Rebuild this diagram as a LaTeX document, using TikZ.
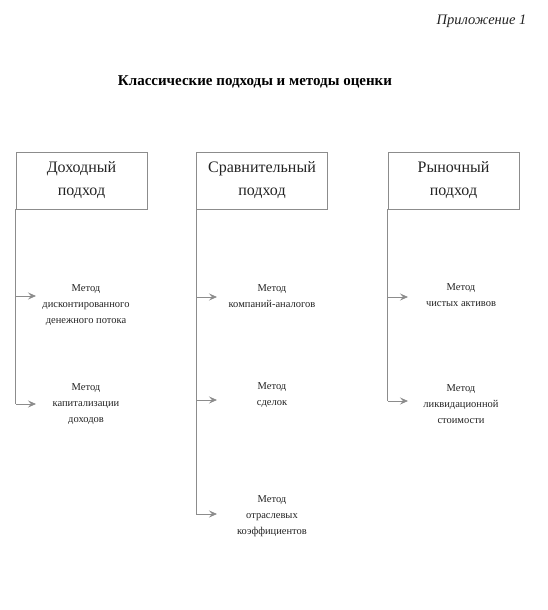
\documentclass[tikz,border=0pt]{standalone}
\usepackage{fontspec}
\setmainfont{Liberation Serif}
\usetikzlibrary{arrows.meta, positioning, calc}
\definecolor{linegray}{RGB}{140,140,140}
\definecolor{textgray}{RGB}{35,35,35}
\tikzset{
  appr/.style={draw=linegray, minimum height=57pt, minimum width=131pt, align=center,
    text=textgray, font=\fontsize{16}{23}\selectfont},
  meth/.style={align=center, text=textgray, font=\fontsize{10.5}{16}\selectfont},
  trunk/.style={draw=linegray, line width=0.8pt},
  arr/.style={-{Stealth[length=8pt, width=7pt, inset=3pt]}, draw=linegray, line width=0.8pt},
}
\begin{document}
\begin{tikzpicture}[x=1pt, y=-1pt]
  \useasboundingbox (0,0) rectangle (547,610);
  % headings
  \node[anchor=east, font=\fontsize{14.5}{17}\selectfont\itshape, text=textgray] (app) at (530,21) {Приложение 1};
  \node[font=\fontsize{15}{18}\selectfont\bfseries] (title) at (255,82) {Классические подходы и методы оценки};
  % approaches
  \node[appr] (dox) at (81.5,180.5) {Доходный\\подход};
  \node[appr] (srav) at (262,180.5) {Сравнительный\\подход};
  \node[appr] (ryn) at (453.5,180.5) {Рыночный\\подход};
  % methods
  \node[meth] (m11) at (86,305) {Метод\\дисконтированного\\денежного потока};
  \node[meth] (m12) at (86,404) {Метод\\капитализации\\доходов};
  \node[meth] (m21) at (272,296) {Метод\\компаний-аналогов};
  \node[meth] (m22) at (272,395) {Метод\\сделок};
  \node[meth] (m23) at (272,516) {Метод\\отраслевых\\коэффициентов};
  \node[meth] (m31) at (461,295) {Метод\\чистых активов};
  \node[meth] (m32) at (461,404) {Метод\\ликвидационной\\стоимости};
  % arrow ends
  \coordinate (a11) at (36,296);
  \coordinate (a12) at (36,404);
  \coordinate (a21) at (217,297);
  \coordinate (a22) at (217,400);
  \coordinate (a23) at (217,514);
  \coordinate (a31) at (408,297);
  \coordinate (a32) at (408,401);
  % trunks
  \draw[trunk] (dox.south west) -- (dox.south west |- a12);
  \draw[trunk] (srav.south west) -- (srav.south west |- a23);
  \draw[trunk] (ryn.south west) -- (ryn.south west |- a32);
  % arrows
  \foreach \a/\b in {dox/a11, dox/a12, srav/a21, srav/a22, srav/a23, ryn/a31, ryn/a32}
    \draw[arr] (\a.south west |- \b) -- (\b);
\end{tikzpicture}
\end{document}
